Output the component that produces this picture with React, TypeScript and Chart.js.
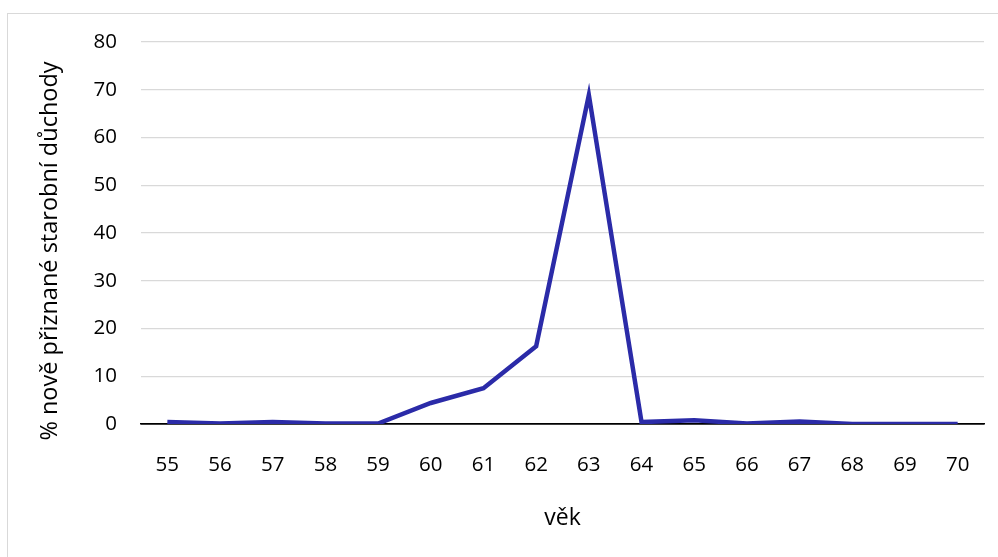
import { useEffect, useRef } from 'react';
import { Chart, registerables } from 'chart.js';

Chart.register(...registerables);

const ages = ['55', '56', '57', '58', '59', '60', '61', '62', '63', '64', '65', '66', '67', '68', '69', '70'];
const shares = [0.4, 0.1, 0.4, 0.1, 0.1, 4.4, 7.5, 16.3, 68.9, 0.4, 0.8, 0.1, 0.5, 0, 0, 0];
const yTitle = '% nově přiznané starobní důchody';
const xTitle = 'věk';

const FONT = '"Open Sans", "DejaVu Sans", sans-serif';

// y-axis title drawn by hand so it can sit a bit lower than the plot centre, like the original
const yTitlePlugin = {
  id: 'yTitle',
  afterDraw(chart: Chart) {
    const ctx = chart.ctx;
    ctx.save();
    ctx.translate(50, 251);
    ctx.rotate(-Math.PI / 2);
    ctx.font = `23.5px ${FONT}`;
    ctx.fillStyle = '#000';
    ctx.textAlign = 'center';
    ctx.textBaseline = 'middle';
    ctx.fillText(yTitle, 0, 0);
    ctx.restore();
  },
};

export default function App() {
  const chartRef = useRef<HTMLCanvasElement>(null);
  const chartInstance = useRef<Chart | null>(null);

  useEffect(() => {
    if (!chartRef.current) return;
    if (chartInstance.current) chartInstance.current.destroy();
    const ctx = chartRef.current.getContext('2d');
    if (!ctx) return;

    chartInstance.current = new Chart(ctx, {
      type: 'line',
      data: {
        labels: ages,
        datasets: [{
          label: yTitle,
          data: shares,
          borderColor: '#2b2ba8',
          borderWidth: 4.5,
          pointRadius: 0,
          tension: 0,
          fill: false,
        }],
      },
      options: {
        animation: false,
        responsive: false,
        maintainAspectRatio: false,
        layout: { padding: { top: 42, right: 14, left: 0, bottom: 0 } },
        plugins: {
          legend: { display: false },
          tooltip: { enabled: false },
        },
        scales: {
          x: {
            offset: true,
            afterFit: (scale: any) => { scale.height = 133; },
            grid: { display: false, offset: true },
            border: { display: true, color: '#000', width: 1.5 },
            ticks: { color: '#000', font: { family: FONT, size: 20.5 }, padding: 21, maxRotation: 0 },
            title: {
              display: true,
              text: xTitle,
              color: '#000',
              font: { family: FONT, size: 23 },
              padding: { top: 0, bottom: 25 },
            },
          },
          y: {
            min: 0,
            max: 80,
            afterFit: (scale: any) => { scale.width = 141; },
            grid: {
              drawTicks: false,
              color: (c: any) => (c.tick && c.tick.value === 0 ? '#000' : '#d9d9d9'),
              lineWidth: (c: any) => (c.tick && c.tick.value === 0 ? 1.5 : 1.3),
            },
            border: { display: false },
            ticks: { stepSize: 10, color: '#000', font: { family: FONT, size: 20.5 }, padding: 24 },
          },
        },
      },
      plugins: [yTitlePlugin],
    });

    return () => {
      if (chartInstance.current) {
        chartInstance.current.destroy();
        chartInstance.current = null;
      }
    };
  }, []);

  return (
    <div style={{ position: 'fixed', left: 0, top: 0, width: 998, height: 557, background: '#fff', overflow: 'hidden' }}>
      <div style={{ position: 'absolute', left: 7, top: 13, width: 1000, height: 600, border: '1.5px solid #d9d9d9' }} />
      <canvas ref={chartRef} width={998} height={557} style={{ position: 'absolute', left: 0, top: 0 }} />
    </div>
  );
}
